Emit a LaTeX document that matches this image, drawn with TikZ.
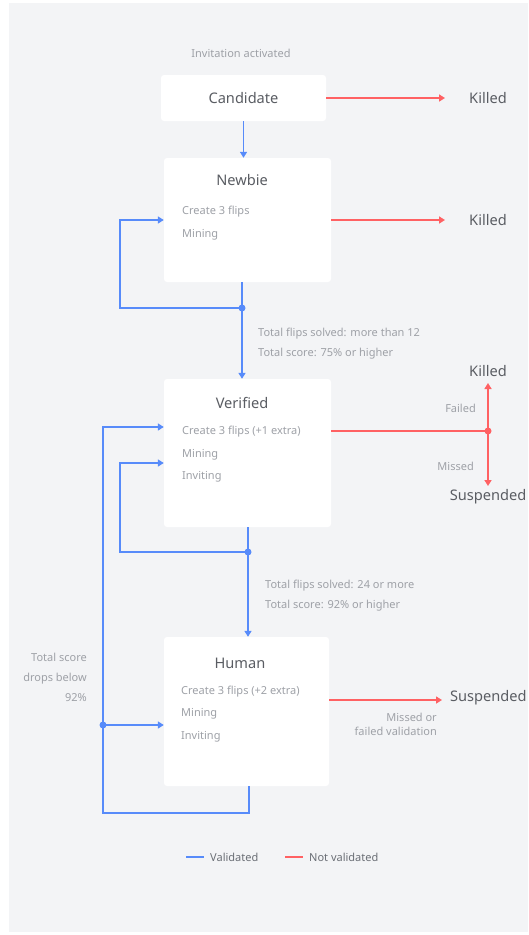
\documentclass[tikz,border=0pt]{standalone}
\usepackage{fontspec}
\setmainfont{Noto Sans}
\usetikzlibrary{arrows.meta}
\definecolor{bgc}{HTML}{F3F4F6}
\definecolor{cblue}{HTML}{578BFA}
\definecolor{cred}{HTML}{FF6163}
\definecolor{cdark}{HTML}{5A5D63}
\definecolor{clight}{HTML}{9EA1A7}
\definecolor{clegend}{HTML}{6B6F76}
\tikzset{
  box/.style={fill=white, rounded corners=3pt, inner sep=0pt, draw=none},
  title/.style={font=\fontsize{14.6}{16}\selectfont, text=cdark, inner sep=0pt},
  small/.style={font=\fontsize{11}{13}\selectfont, text=clight, inner sep=0pt},
  item/.style={small, anchor=west},
  bl/.style={draw=cblue, line width=1.8pt},
  rl/.style={draw=cred, line width=1.8pt},
  arr/.style={-{Triangle[length=6pt,width=7pt]}},
  bdot/.style={circle, fill=cblue, inner sep=0pt, minimum size=7pt},
  rdot/.style={circle, fill=cred, inner sep=0pt, minimum size=7pt},
}
\begin{document}
\begin{tikzpicture}[x=1pt,y=-1pt]
\useasboundingbox (0,0) rectangle (528,935);
\fill[white] (0,0) rectangle (528,935);
\fill[bgc] (9,3) rectangle (528,932);

% Candidate
\node[small] (inv) at (241,53) {Invitation activated};
\node[box, title, minimum width=165pt, minimum height=46pt] (cand) at (243.5,98) {Candidate};
\coordinate (k1a) at (445,98);
\node[title] (k1) at (488,98) {Killed};
\draw[rl,arr] (cand.east) -- (k1a);

% Newbie
\node[box, minimum width=167pt, minimum height=124pt] (newbie) at (247.5,220) {};
\node[title] (newbiet) at (242,180) {Newbie};
\node[item] (n1) at (182,212) {Create 3 flips};
\node[item] (n2) at (182,235) {Mining};
\coordinate (k2a) at (445,220);
\node[title] (k2) at (488,220) {Killed};
\draw[rl,arr] (newbie.east) -- (k2a);
\draw[bl,arr] (cand.south) -- (cand.south |- newbie.north);

\node[bdot] (d1) at (242,308) {};
\draw[bl] (d1 |- newbie.south) -- (d1.center);
\draw[bl,arr] (d1.center) -| ([xshift=-44pt]newbie.west) -- (newbie.west);
\node[small, anchor=west] (c1) at (258,334) {Total flips solved: more than 12};
\node[small, anchor=west] (c2) at (258,354) {Total score: 75\% or higher};

% Verified
\node[box, minimum width=167pt, minimum height=148pt] (ver) at (247.5,453) {};
\draw[bl,arr] (d1.center) -- (d1 |- ver.north);
\node[title] (vert) at (242,403) {Verified};
\node[item] (v1) at (182,432) {Create 3 flips (+1 extra)};
\node[item] (v2) at (182,455) {Mining};
\node[item] (v3) at (182,477) {Inviting};

\node[rdot] (d3) at (488,431) {};
\node[title] (k3) at (488,371) {Killed};
\node[title] (s1) at (488,497) {Suspended};
\coordinate (k3a) at (488,383);
\coordinate (s1a) at (488,486);
\draw[rl] ([yshift=22pt]ver.east) -- (d3.center);
\draw[rl,arr] (d3.center) -- (k3a);
\draw[rl,arr] (d3.center) -- (s1a);
\node[small, anchor=east] (failed) at (476,408) {Failed};
\node[small, anchor=east] (missed) at (474,466) {Missed};

\node[bdot] (d2) at (248,552) {};
\draw[bl] (d2 |- ver.south) -- (d2.center);
\draw[bl,arr] (d2.center) -| ([xshift=-44pt,yshift=-10pt]ver.west) -- ([yshift=-10pt]ver.west);
\node[small, anchor=west] (c3) at (265,586) {Total flips solved: 24 or more};
\node[small, anchor=west] (c4) at (265,606) {Total score: 92\% or higher};

% Human
\node[box, minimum width=165pt, minimum height=149pt] (hum) at (246.5,711.5) {};
\draw[bl,arr] (d2.center) -- (d2 |- hum.north);
\node[title] (humt) at (240,663) {Human};
\node[item] (h1) at (181,692) {Create 3 flips (+2 extra)};
\node[item] (h2) at (181,714) {Mining};
\node[item] (h3) at (181,737) {Inviting};

\coordinate (s2a) at (442,700);
\node[title, anchor=west] (s2) at (450,698) {Suspended};
\draw[rl,arr] ([yshift=11.5pt]hum.east) -- (s2a);
\node[small, anchor=east, align=right, font=\fontsize{11}{14}\selectfont] (mf) at (437,724) {Missed or\\failed validation};

% outer loop
\node[bdot] (d4) at (103,725) {};
\coordinate (lb) at (249,813);
\draw[bl,arr] (lb |- hum.south) -- (lb) -| ([xshift=-61pt,yshift=26pt]ver.west) -- ([yshift=26pt]ver.west);
\draw[bl,arr] (d4.center) -- (hum.west |- d4);
\node[small, anchor=east, align=right, font=\fontsize{11}{20}\selectfont] (ts) at (87,677) {Total score\\drops below\\92\%};

% legend
\coordinate (lg1a) at (186,857);
\coordinate (lg1b) at (204,857);
\coordinate (lg2a) at (285,857);
\coordinate (lg2b) at (303,857);
\draw[bl] (lg1a) -- (lg1b);
\draw[rl] (lg2a) -- (lg2b);
\node[small, text=clegend, anchor=west] (lv) at (210,857) {Validated};
\node[small, text=clegend, anchor=west] (lnv) at (309,857) {Not validated};
\end{tikzpicture}
\end{document}
